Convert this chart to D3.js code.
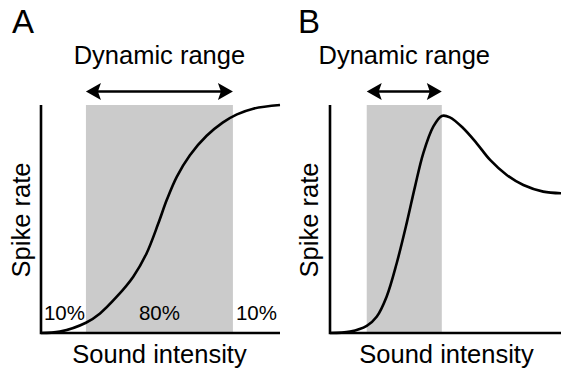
<!DOCTYPE html>
<html><head><meta charset="utf-8">
<script src="https://cdn.jsdelivr.net/npm/d3@7"></script>
<style>body{margin:0;background:#fff}svg{display:block;font-family:"Liberation Sans",Arial,sans-serif}</style>
</head><body>
<svg id="c" width="561" height="371"></svg>
<script>
// Data (intensity 0-100, spike rate 0-100)
const panelLabels = ["A", "B"];
const titleText = "Dynamic range";
const xLabel = "Sound intensity";
const yLabel = "Spike rate";
const curveA_x = [0, 7.9, 18.8, 24.7, 31.7, 38.6, 44.2, 49.1, 52.6, 56.8, 62.3, 69.3, 76.0, 82.0, 88.8, 100];
const curveA_y = [0, 0.6, 4.5, 8.6, 15.9, 24.7, 35.0, 48.1, 58.3, 68.5, 78.0, 86.5, 92.3, 95.9, 98.4, 100];
const curveB_x = [0, 8.7, 15.9, 20.2, 24.5, 28.9, 33.2, 36.8, 40.4, 44.7, 48.4, 51.9, 57.7, 63.5, 69.3, 76.5, 83.7, 92.3, 100];
const curveB_y = [0, 0.6, 3.1, 7.1, 15.9, 30.7, 48.2, 64.2, 78.9, 90.5, 95.2, 94.6, 89.8, 83.2, 75.9, 69.3, 64.9, 62.0, 61.3];
const rangeA = [18.8, 80.3];
const rangeB = [15.9, 48.4];
const pctLabels = ["10%", "80%", "10%"];

const svg = d3.select("#c");
const yS = d3.scaleLinear().domain([0, 100]).range([333, 105]);
const panels = [
  {label: panelLabels[0], xs: d3.scaleLinear().domain([0, 100]).range([41, 280]), xv: curveA_x, yv: curveA_y, rng: rangeA, lx: 12, ylx: 30, axisEnd: 100},
  {label: panelLabels[1], xs: d3.scaleLinear().domain([0, 100]).range([330, 561]), xv: curveB_x, yv: curveB_y, rng: rangeB, lx: 298, ylx: 318, axisEnd: 100}
];

panels.forEach((p, i) => {
  const g = svg.append("g");
  const xs = p.xs;
  g.append("rect")
    .attr("x", xs(p.rng[0])).attr("y", yS(100))
    .attr("width", xs(p.rng[1]) - xs(p.rng[0]))
    .attr("height", yS(0) - yS(100))
    .attr("fill", "#cbcbcb");
  g.append("path")
    .attr("d", `M${xs(0)},${yS(100)}V${yS(0)}H${xs(p.axisEnd)}`)
    .attr("fill", "none").attr("stroke", "#000").attr("stroke-width", 2.6);
  const pts = p.xv.map((x, k) => [x, p.yv[k]]);
  g.append("path")
    .attr("d", d3.line().x(d => xs(d[0])).y(d => yS(d[1])).curve(d3.curveCatmullRom.alpha(0.5))(pts))
    .attr("fill", "none").attr("stroke", "#000").attr("stroke-width", 2.6);
  const ay = 91.5, x0 = xs(p.rng[0]), x1 = xs(p.rng[1]), hl = 15, hw = 8.5;
  g.append("line").attr("x1", x0 + 4).attr("x2", x1 - 4).attr("y1", ay).attr("y2", ay)
    .attr("stroke", "#000").attr("stroke-width", 2.4);
  g.append("path").attr("d", `M${x0},${ay}L${x0 + hl},${ay - hw}L${x0 + hl - 3},${ay}L${x0 + hl},${ay + hw}Z`).attr("fill", "#000");
  g.append("path").attr("d", `M${x1},${ay}L${x1 - hl},${ay - hw}L${x1 - hl + 3},${ay}L${x1 - hl},${ay + hw}Z`).attr("fill", "#000");
  g.append("text").attr("x", (x0 + x1) / 2).attr("y", 64).attr("text-anchor", "middle")
    .attr("font-size", 25.5).text(titleText);
  g.append("text").attr("x", p.lx).attr("y", 33).attr("font-size", 33).text(p.label);
  g.append("text").attr("x", (xs(0) + xs(100)) / 2 + (i ? 1 : -1)).attr("y", 363).attr("text-anchor", "middle")
    .attr("font-size", 25.5).text(xLabel);
  g.append("text").attr("transform", `translate(${p.ylx},220) rotate(-90)`).attr("text-anchor", "middle")
    .attr("font-size", 25.5).text(yLabel);
  if (i === 0) {
    const cx = [(0 + p.rng[0]) / 2, (p.rng[0] + p.rng[1]) / 2, (p.rng[1] + 100) / 2];
    pctLabels.forEach((t, k) => {
      g.append("text").attr("x", xs(cx[k]) + (k === 0 ? 1 : 0)).attr("y", 320).attr("text-anchor", "middle")
        .attr("font-size", 20.5).text(t);
    });
  }
});
</script>
</body></html>
